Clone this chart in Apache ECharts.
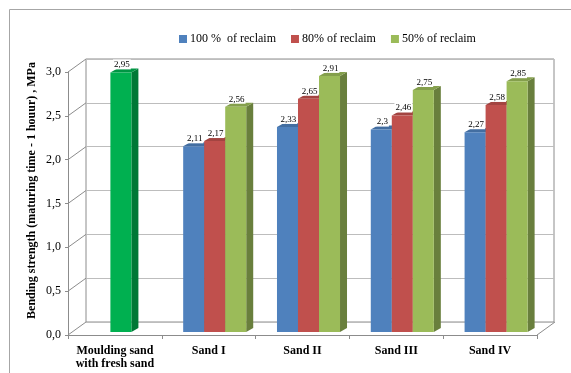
<!DOCTYPE html>
<html>
<head>
<meta charset="utf-8">
<script src="https://cdn.jsdelivr.net/npm/echarts@6/dist/echarts.min.js"></script>
<style>
  html, body { margin: 0; padding: 0; background: #fff; }
  #chart { width: 571px; height: 373px; }
</style>
</head>
<body>
<div id="chart"></div>
<script>
// Categories and measured bending strength values (MPa)
const categories = ['Moulding sand\nwith fresh sand', 'Sand I', 'Sand II', 'Sand III', 'Sand IV'];
const freshSand  = [2.95, null, null, null, null];
const reclaim100 = [null, 2.11, 2.33, 2.30, 2.27];
const reclaim80  = [null, 2.17, 2.65, 2.46, 2.58];
const reclaim50  = [null, 2.56, 2.91, 2.75, 2.85];
const seriesNames = ['100 %  of reclaim', '80% of reclaim', '50% of reclaim'];
const yTicks = [0, 0.5, 1, 1.5, 2, 2.5, 3];

const SERIF = '"Liberation Serif", "Times New Roman", serif';
const LINE = '#8c8c8c';
const GRIDLINE = '#bdbdbd';

// wall depth (front axis -> back wall) and bar depth, in pixels
const WALL_DX = 18, WALL_DY = -13;
const BAR_DX = 7, BAR_DY = -4;

function shade(hex, k) {
  const n = parseInt(hex.slice(1), 16);
  const r = Math.round(((n >> 16) & 255) * k);
  const g = Math.round(((n >> 8) & 255) * k);
  const b = Math.round((n & 255) * k);
  return 'rgb(' + r + ',' + g + ',' + b + ')';
}
function fmt(v) { return String(v).replace('.', ','); }

function toPairs(arr) {
  const out = [];
  arr.forEach((v, i) => { if (v !== null) out.push([i, v]); });
  return out;
}

// 3D-looking bar: front face, top face and right side face
function barRenderer(slot, color) {
  return function (params, api) {
    const cat = api.value(0), v = api.value(1);
    const base = api.coord([cat, 0]);
    const top = api.coord([cat, v]);
    const catW = api.size([1, 0])[0];
    const w = catW * 0.224;
    const x0 = base[0] + slot * w - w / 2;
    const x1 = x0 + w;
    const y0 = base[1], y1 = top[1];
    return {
      type: 'group',
      children: [
        { type: 'polygon', shape: { points: [[x1, y0], [x1 + BAR_DX, y0 + BAR_DY], [x1 + BAR_DX, y1 + BAR_DY], [x1, y1]] },
          style: { fill: shade(color, 0.68) } },
        { type: 'polygon', shape: { points: [[x0, y1], [x1, y1], [x1 + BAR_DX, y1 + BAR_DY], [x0 + BAR_DX, y1 + BAR_DY]] },
          style: { fill: shade(color, 0.85) } },
        { type: 'rect', shape: { x: x0, y: y1, width: w, height: y0 - y1 }, style: { fill: color } },
        { type: 'text', z2: 10, style: {
            text: fmt(v), x: (x0 + x1) / 2 + 1, y: y1 - 3, align: 'center', verticalAlign: 'bottom',
            font: '9px ' + SERIF, fill: '#000', backgroundColor: '#fff', padding: [1, 1, 0, 1] } }
      ]
    };
  };
}

const chart = echarts.init(document.getElementById('chart'), null, { renderer: 'canvas' });

const barGrid = { xAxisIndex: 2, yAxisIndex: 2 };

const option = {
  animation: false,
  backgroundColor: '#fff',
  graphic: [
    { type: 'rect', shape: { x: 9.5, y: 9.5, width: 620, height: 400 }, style: { fill: 'none', stroke: '#a6a6a6', lineWidth: 1 }, silent: true }
  ],
  legend: {
    data: seriesNames,
    top: 28, left: 174,
    itemWidth: 8, itemHeight: 8, itemGap: 15,
    icon: 'rect',
    textStyle: { fontFamily: SERIF, fontSize: 12, color: '#000', padding: [0, 0, 0, -2] }
  },
  grid: [
    // back wall
    { left: 86, right: 17, top: 59, bottom: 51, show: true, borderColor: LINE, borderWidth: 1, backgroundColor: 'transparent' },
    // front axes
    { left: 68, right: 34, top: 72, bottom: 38 },
    // plane where the bars stand
    { left: 74, right: 28, top: 68, bottom: 41 }
  ],
  xAxis: [
    { gridIndex: 0, type: 'category', data: categories, show: false },
    { gridIndex: 1, type: 'category', data: categories,
      axisLine: { show: true, lineStyle: { color: LINE } },
      axisTick: { show: true, length: 4, interval: 0, lineStyle: { color: LINE } },
      axisLabel: { interval: 0, margin: 10, fontFamily: SERIF, fontSize: 12, fontWeight: 'bold', color: '#000', lineHeight: 12.5 } },
    { gridIndex: 2, type: 'category', data: categories, show: false }
  ],
  yAxis: [
    { gridIndex: 0, type: 'value', min: 0, max: 3, interval: 0.5,
      axisLine: { show: false }, axisTick: { show: false }, axisLabel: { show: false },
      splitLine: { show: true, lineStyle: { color: GRIDLINE } },
      name: 'Bending strength (maturing time - 1 houur) , MPa',
      nameLocation: 'middle', nameGap: 48, nameRotate: 90,
      nameTextStyle: { fontFamily: SERIF, fontSize: 12, fontWeight: 'bold', color: '#000' } },
    { gridIndex: 1, type: 'value', min: 0, max: 3, interval: 0.5,
      axisLine: { show: true, lineStyle: { color: LINE } },
      axisTick: { show: true, length: 3, lineStyle: { color: LINE } },
      splitLine: { show: false },
      axisLabel: { margin: 7, fontFamily: SERIF, fontSize: 12, color: '#000', formatter: v => v.toFixed(1).replace('.', ',') } },
    { gridIndex: 2, type: 'value', min: 0, max: 3, show: false, splitLine: { show: false } }
  ],
  series: [
    // side wall and floor edges linking the front axes to the back wall
    { type: 'custom', xAxisIndex: 1, yAxisIndex: 1, silent: true, data: yTicks.map(v => [0, v]),
      renderItem: function (params, api) {
        const cs = params.coordSys;
        const y = api.coord([0, api.value(1)])[1];
        const children = [{ type: 'line', shape: { x1: cs.x, y1: y, x2: cs.x + WALL_DX, y2: y + WALL_DY }, style: { stroke: LINE, lineWidth: 1 } }];
        if (api.value(1) === 0) {
          children.push({ type: 'line', shape: { x1: cs.x + cs.width, y1: y, x2: cs.x + cs.width + WALL_DX, y2: y + WALL_DY }, style: { stroke: LINE, lineWidth: 1 } });
        }
        return { type: 'group', children: children };
      } },
    { name: seriesNames[0], type: 'custom', ...barGrid, data: toPairs(reclaim100), itemStyle: { color: '#4f81bd' },
      renderItem: barRenderer(-1, '#4f81bd') },
    { name: seriesNames[1], type: 'custom', ...barGrid, data: toPairs(reclaim80), itemStyle: { color: '#c0504d' },
      renderItem: barRenderer(0, '#c0504d') },
    { name: seriesNames[2], type: 'custom', ...barGrid, data: toPairs(reclaim50), itemStyle: { color: '#9bbb59' },
      renderItem: barRenderer(1, '#9bbb59') },
    { name: 'Moulding sand with fresh sand', type: 'custom', ...barGrid, data: toPairs(freshSand), itemStyle: { color: '#00b050' },
      renderItem: barRenderer(0, '#00b050') }
  ]
};

chart.setOption(option);
</script>
</body>
</html>
